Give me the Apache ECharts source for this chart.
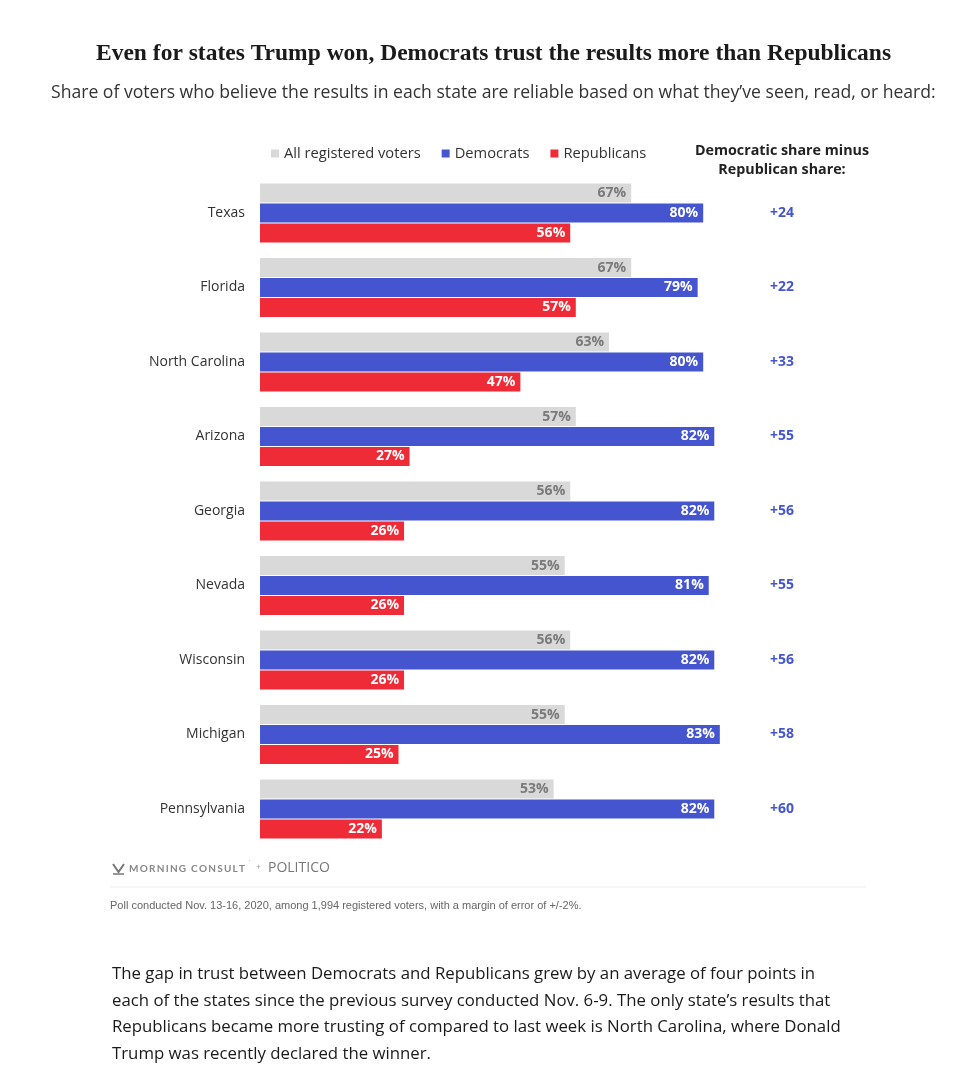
<!DOCTYPE html>
<html>
<head>
<meta charset="utf-8">
<script src="https://cdn.jsdelivr.net/npm/echarts@6/dist/echarts.min.js"></script>
<style>
html,body{margin:0;padding:0;background:#fff;}
#chart{width:964px;height:1092px;}
</style>
</head>
<body>
<div id="chart"></div>
<script>
const states = ['Texas','Florida','North Carolina','Arizona','Georgia','Nevada','Wisconsin','Michigan','Pennsylvania'];
const allVoters = [67,67,63,57,56,55,56,55,53];
const democrats = [80,79,80,82,82,81,82,83,82];
const republicans = [56,57,47,27,26,26,26,25,22];
const diffs = [24,22,33,55,56,55,56,58,60];

const FONT = '"Open Sans", Lato, sans-serif';
const GRAY = '#d9d9d9', BLUE = '#4455cf', RED = '#ee2b36';

const chart = echarts.init(document.getElementById('chart'), null, {renderer:'canvas'});

function barLabel(color){
  return {show:true, position:'insideRight', distance:5, formatter:'{c}%',
    fontFamily:FONT, fontWeight:'bold', fontSize:14, color:color};
}

chart.setOption({
  animation:false,
  backgroundColor:'#fff',
  title:[
    {text:'Even for states Trump won, Democrats trust the results more than Republicans',
     left:91, top:37,
     textStyle:{fontFamily:'"Liberation Serif", serif', fontWeight:'bold', fontSize:23.5, color:'#1a1a1a'}},
    {text:'Share of voters who believe the results in each state are reliable based on what they\u2019ve seen, read, or heard:',
     left:46, top:79,
     textStyle:{fontFamily:FONT, fontWeight:'normal', fontSize:17.6, color:'#333'}}
  ],
  legend:{
    left:266, top:141, itemWidth:8, itemHeight:8, itemGap:21, icon:'rect',
    textStyle:{fontFamily:FONT, fontSize:14.7, color:'#333'},
    data:['All registered voters','Democrats','Republicans']
  },
  grid:{left:260, width:554, top:175.75, height:670.5},
  xAxis:{type:'value', min:0, max:100, show:false},
  yAxis:[
    {type:'category', data:states, inverse:true,
     axisLine:{show:false}, axisTick:{show:false}, splitLine:{show:false},
     axisLabel:{margin:15, fontFamily:FONT, fontSize:14, color:'#333'}},
    {type:'category', data:diffs, inverse:true, position:'right', offset:-32,
     axisLine:{show:false}, axisTick:{show:false}, splitLine:{show:false},
     axisLabel:{margin:0, align:'center', formatter:v=>'+'+v,
       fontFamily:FONT, fontWeight:'bold', fontSize:14, color:BLUE}}
  ],
  series:[
    {name:'All registered voters', type:'bar', data:allVoters, barWidth:19, barGap:'5%',
     itemStyle:{color:GRAY}, label:barLabel('#7a7a7a')},
    {name:'Democrats', type:'bar', data:democrats, barWidth:19, barGap:'5%',
     itemStyle:{color:BLUE}, label:barLabel('#fff')},
    {name:'Republicans', type:'bar', data:republicans, barWidth:19, barGap:'5%',
     itemStyle:{color:RED}, label:barLabel('#fff')}
  ],
  graphic:[
    {type:'text', x:782, y:141, style:{text:'Democratic share minus\nRepublican share:',
      align:'center', fontFamily:FONT, fontWeight:'bold', fontSize:14.3, lineHeight:19, fill:'#222'}},
    {type:'polyline', shape:{points:[[113,864],[118.5,872],[124,864]]}, style:{stroke:'#777', lineWidth:2, fill:null}},
    {type:'line', shape:{x1:113,y1:874,x2:124,y2:874}, style:{stroke:'#777', lineWidth:1.5}},
    {type:'text', left:129, top:864, style:{text:'M\u2009O\u2009R\u2009N\u2009I\u2009N\u2009G\u2009\u2009 C\u2009O\u2009N\u2009S\u2009U\u2009L\u2009T', fontFamily:'Lato, sans-serif', fontWeight:'bold', fontSize:10, fill:'#888'}},
    {type:'text', left:249, top:860, style:{text:'\u02D9', fontFamily:FONT, fontSize:8, fill:'#999'}},
    {type:'text', left:256, top:863, style:{text:'+', fontFamily:FONT, fontSize:9, fill:'#999'}},
    {type:'text', left:268, top:861, style:{text:'POLITICO', fontFamily:'"Liberation Sans Narrow", "Open Sans", sans-serif', fontSize:14, fill:'#777'}},
    {type:'line', shape:{x1:110,y1:887,x2:866,y2:887}, style:{stroke:'#eeeeee', lineWidth:1}},
    {type:'text', left:110, top:900, style:{text:'Poll conducted Nov. 13-16, 2020, among 1,994 registered voters, with a margin of error of +/-2%.',
      fontFamily:'"Liberation Sans Narrow", sans-serif', fontSize:11, fill:'#666'}},
    {type:'text', left:112, top:961, style:{text:
      'The gap in trust between Democrats and Republicans grew by an average of four points in\n' +
      'each of the states since the previous survey conducted Nov. 6-9. The only state\u2019s results that\n' +
      'Republicans became more trusting of compared to last week is North Carolina, where Donald\n' +
      'Trump was recently declared the winner.',
      fontFamily:FONT, fontSize:16.8, lineHeight:26.6, fill:'#1a1a1a'}}
  ]
});
</script>
</body>
</html>
